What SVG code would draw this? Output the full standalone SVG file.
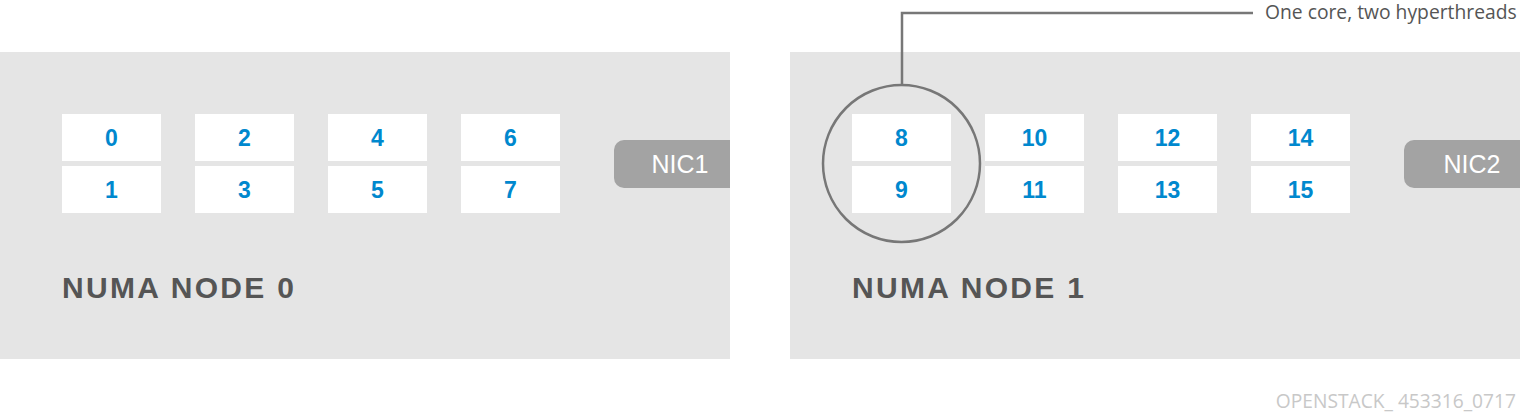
<svg xmlns="http://www.w3.org/2000/svg" width="1520" height="419" viewBox="0 0 1520 419">
<style>
.panel{fill:#e5e5e5}
.core{fill:#fff}
.num{font-family:"Liberation Sans",Arial,sans-serif;font-weight:bold;font-size:23px;fill:#0088ce;text-anchor:middle}
.nic{fill:#a3a3a3}
.nict{font-family:"Liberation Sans",Arial,sans-serif;font-size:25px;fill:#fff;text-anchor:middle}
.numa{font-family:"Liberation Sans",Arial,sans-serif;font-weight:bold;font-size:30px;fill:#555;letter-spacing:2.3px}
.lbl{font-family:"Open Sans",sans-serif;font-size:19.3px;fill:#555}
.foot{font-family:"Open Sans",sans-serif;font-size:19.2px;fill:#c8c8c8}
.conn{fill:none;stroke:#777;stroke-width:2.5}
</style>
<rect width="1520" height="419" fill="#fff"/>
<g id="numa0">
<rect class="panel" x="0" y="52" width="730" height="307"/>
<text class="numa" x="62" y="298">NUMA NODE 0</text>
</g>
<g id="numa1">
<rect class="panel" x="790" y="52" width="730" height="307"/>
<text class="numa" x="852" y="298">NUMA NODE 1</text>
</g>
<g id="cores0">
<g id="core0"><rect class="core" x="62" y="114" width="99" height="47"/><text class="num" x="111.5" y="146">0</text></g>
<g id="core1"><rect class="core" x="62" y="166" width="99" height="47"/><text class="num" x="111.5" y="198">1</text></g>
<g id="core2"><rect class="core" x="195" y="114" width="99" height="47"/><text class="num" x="244.5" y="146">2</text></g>
<g id="core3"><rect class="core" x="195" y="166" width="99" height="47"/><text class="num" x="244.5" y="198">3</text></g>
<g id="core4"><rect class="core" x="328" y="114" width="99" height="47"/><text class="num" x="377.5" y="146">4</text></g>
<g id="core5"><rect class="core" x="328" y="166" width="99" height="47"/><text class="num" x="377.5" y="198">5</text></g>
<g id="core6"><rect class="core" x="461" y="114" width="99" height="47"/><text class="num" x="510.5" y="146">6</text></g>
<g id="core7"><rect class="core" x="461" y="166" width="99" height="47"/><text class="num" x="510.5" y="198">7</text></g>
</g>
<g id="cores1">
<g id="core8"><rect class="core" x="852" y="114" width="99" height="47"/><text class="num" x="901.5" y="146">8</text></g>
<g id="core9"><rect class="core" x="852" y="166" width="99" height="47"/><text class="num" x="901.5" y="198">9</text></g>
<g id="core10"><rect class="core" x="985" y="114" width="99" height="47"/><text class="num" x="1034.5" y="146">10</text></g>
<g id="core11"><rect class="core" x="985" y="166" width="99" height="47"/><text class="num" x="1034.5" y="198">11</text></g>
<g id="core12"><rect class="core" x="1118" y="114" width="99" height="47"/><text class="num" x="1167.5" y="146">12</text></g>
<g id="core13"><rect class="core" x="1118" y="166" width="99" height="47"/><text class="num" x="1167.5" y="198">13</text></g>
<g id="core14"><rect class="core" x="1251" y="114" width="99" height="47"/><text class="num" x="1300.5" y="146">14</text></g>
<g id="core15"><rect class="core" x="1251" y="166" width="99" height="47"/><text class="num" x="1300.5" y="198">15</text></g>
</g>
<g id="nic1">
<path class="nic" d="M730,140 H624 A10,10 0 0 0 614,150 V178 A10,10 0 0 0 624,188 H730 Z"/>
<text class="nict" x="680" y="173">NIC1</text>
</g>
<g id="nic2">
<path class="nic" d="M1520,140 H1414 A10,10 0 0 0 1404,150 V178 A10,10 0 0 0 1414,188 H1520 Z"/>
<text class="nict" x="1472" y="173">NIC2</text>
</g>
<g id="callout">
<circle class="conn" cx="901.5" cy="163.5" r="78.5"/>
<text class="lbl" x="1265" y="19">One core, two hyperthreads</text>
</g>
<g id="connectors">
<path class="conn" d="M902,85 V13 H1253"/>
</g>
<text class="foot" x="1516" y="408" text-anchor="end">OPENSTACK_ 453316_0717</text>
</svg>
